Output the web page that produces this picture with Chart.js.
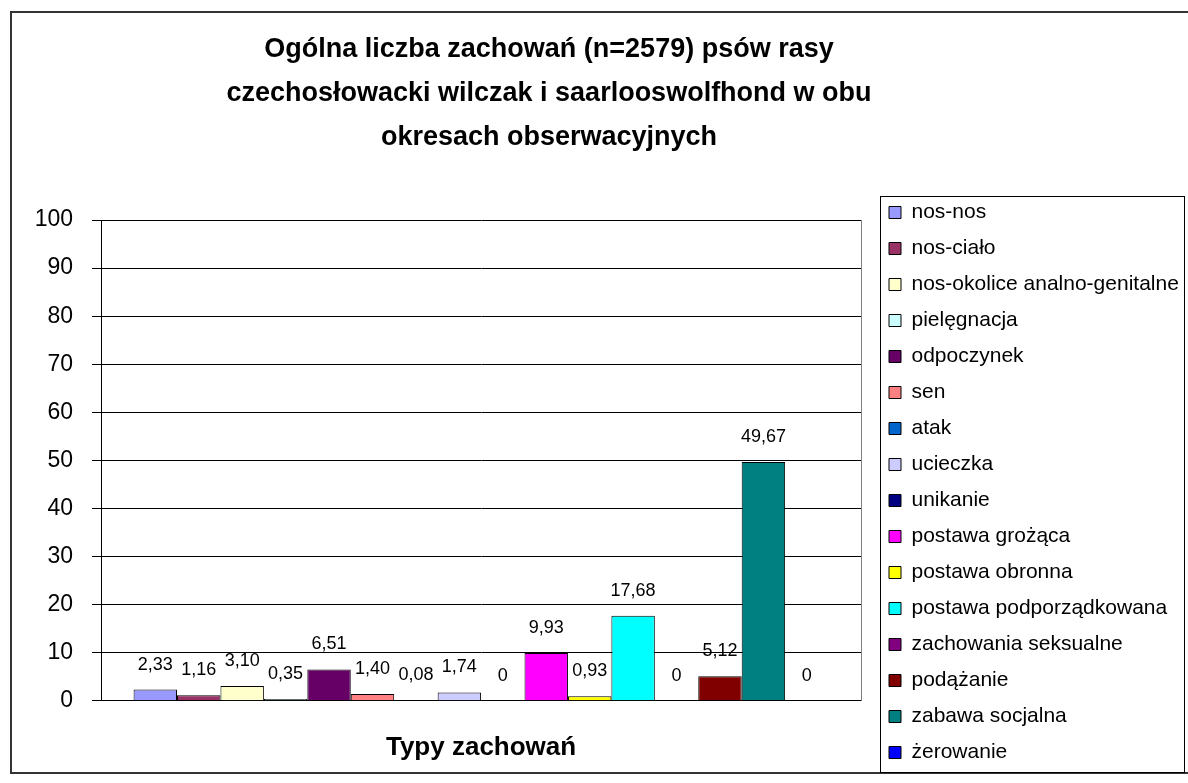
<!DOCTYPE html>
<html>
<head>
<meta charset="utf-8">
<title>Ogólna liczba zachowań</title>
<script src="https://cdn.jsdelivr.net/npm/chart.js@4.4.1/dist/chart.umd.min.js"></script>
<style>
  html, body { margin: 0; padding: 0; background: #fff; }
  #wrap { width: 1188px; height: 783px; position: relative; }
</style>
</head>
<body>
<div id="wrap"><canvas id="behaviourChart"></canvas></div>
<script>
// Data
const titleLines = [
  "Ogólna liczba zachowań (n=2579) psów rasy",
  "czechosłowacki wilczak i saarlooswolfhond w obu",
  "okresach obserwacyjnych",
];
const xTitle = "Typy zachowań";
const categories = [""];
const behaviours = [
  "nos-nos",
  "nos-ciało",
  "nos-okolice analno-genitalne",
  "pielęgnacja",
  "odpoczynek",
  "sen",
  "atak",
  "ucieczka",
  "unikanie",
  "postawa grożąca",
  "postawa obronna",
  "postawa podporządkowana",
  "zachowania seksualne",
  "podążanie",
  "zabawa socjalna",
  "żerowanie",
];
const percentages = [2.33, 1.16, 3.1, 0.35, 6.51, 1.4, 0.08, 1.74, 0, 9.93, 0.93, 17.68, 0, 5.12, 49.67, 0];
const barColors = [
  "#9999FF", "#993366", "#FFFFCC", "#CCFFFF",
  "#660066", "#FF8080", "#0066CC", "#CCCCFF",
  "#000080", "#FF00FF", "#FFFF00", "#00FFFF",
  "#800080", "#800000", "#008080", "#0000FF",
];
const yTicks = [0, 10, 20, 30, 40, 50, 60, 70, 80, 90, 100];

Chart.defaults.font.family = '"Liberation Sans", Arial, sans-serif';
Chart.defaults.color = "#000";

// "2,33" style labels, plain 0 for empty groups
function formatValue(v) {
  return v === 0 ? "0" : v.toFixed(2).replace(".", ",");
}

// negative left padding only widens the layout budget so the wide
// legend is not squeezed; the y axis width below gives it back
const padLeft = -100;

// Excel-like frame: outer border, legend box, value labels
const excelFrame = {
  id: "excelFrame",
  afterLayout(chart) {
    const lg = chart.legend;
    lg.left = 874;
    lg.right = lg.left + lg.width;
    lg.top = 187;
    lg.bottom = lg.top + lg.height;

    const tb = chart.titleBlock;
    const shift = 549 - (tb.left + tb.right) / 2;
    tb.left += shift;
    tb.right += shift;
  },
  beforeDraw(chart) {
    const c = chart.ctx;
    c.save();
    c.fillStyle = "#fff";
    c.fillRect(0, 0, chart.width, chart.height);
    c.restore();
  },
  afterDatasetsDraw(chart) {
    const c = chart.ctx;
    c.save();
    c.font = '18px "Liberation Sans", Arial, sans-serif';
    c.fillStyle = "#000";
    c.textAlign = "center";
    c.textBaseline = "middle";
    chart.data.datasets.forEach((ds, i) => {
      const bar = chart.getDatasetMeta(i).data[0];
      c.fillText(formatValue(ds.data[0]), bar.x, bar.y - 25);
    });
    c.restore();
  },
  afterDraw(chart) {
    const c = chart.ctx;
    const ca = chart.chartArea;
    c.save();
    c.strokeStyle = "#333";
    c.lineWidth = 2;
    c.strokeRect(11, 12, 1200, 761);

    c.strokeStyle = "#000";
    c.lineWidth = 1;
    c.strokeRect(880.5, 196.5, 304, 576);

    c.strokeStyle = "#808080";
    c.beginPath();
    c.moveTo(Math.round(ca.right) + 0.5, ca.top);
    c.lineTo(Math.round(ca.right) + 0.5, ca.bottom);
    c.stroke();
    c.restore();
  },
};

const datasets = behaviours.map((name, i) => ({
  label: name,
  data: [percentages[i]],
  backgroundColor: barColors[i],
  borderColor: "#000",
  borderWidth: 1,
  barPercentage: 1,
  categoryPercentage: 16 / 17.5,
}));

new Chart(document.getElementById("behaviourChart").getContext("2d"), {
  type: "bar",
  data: {
    labels: categories,
    datasets: datasets,
  },
  options: {
    responsive: true,
    maintainAspectRatio: false,
    animation: false,
    layout: {
      padding: { top: 0, left: padLeft, right: 12, bottom: 20 },
    },
    scales: {
      x: {
        ticks: { display: false },
        grid: { display: false, drawTicks: false },
        border: { color: "#000", width: 1 },
        title: {
          display: true,
          text: xTitle,
          color: "#000",
          font: { size: 26, weight: "bold" },
          padding: { top: 31, bottom: 0 },
        },
      },
      y: {
        min: 0,
        max: 100,
        afterBuildTicks: (scale) => {
          scale.ticks = yTicks.map((v) => ({ value: v }));
        },
        afterFit: (scale) => {
          scale.width = 101 - padLeft;
        },
        ticks: {
          color: "#000",
          font: { size: 23 },
          padding: 19,
        },
        grid: {
          color: "#000",
          lineWidth: 1,
          tickLength: 9,
        },
        border: { color: "#000", width: 1 },
      },
    },
    plugins: {
      title: {
        display: true,
        text: titleLines,
        color: "#000",
        font: { size: 27, weight: "bold", lineHeight: "44px" },
        padding: { top: 28, bottom: 60 },
      },
      legend: {
        position: "right",
        align: "start",
        labels: {
          color: "#000",
          font: { size: 21 },
          boxWidth: 12,
          boxHeight: 12,
          padding: 15,
        },
      },
      tooltip: { enabled: false },
    },
  },
  plugins: [excelFrame],
});
</script>
</body>
</html>
